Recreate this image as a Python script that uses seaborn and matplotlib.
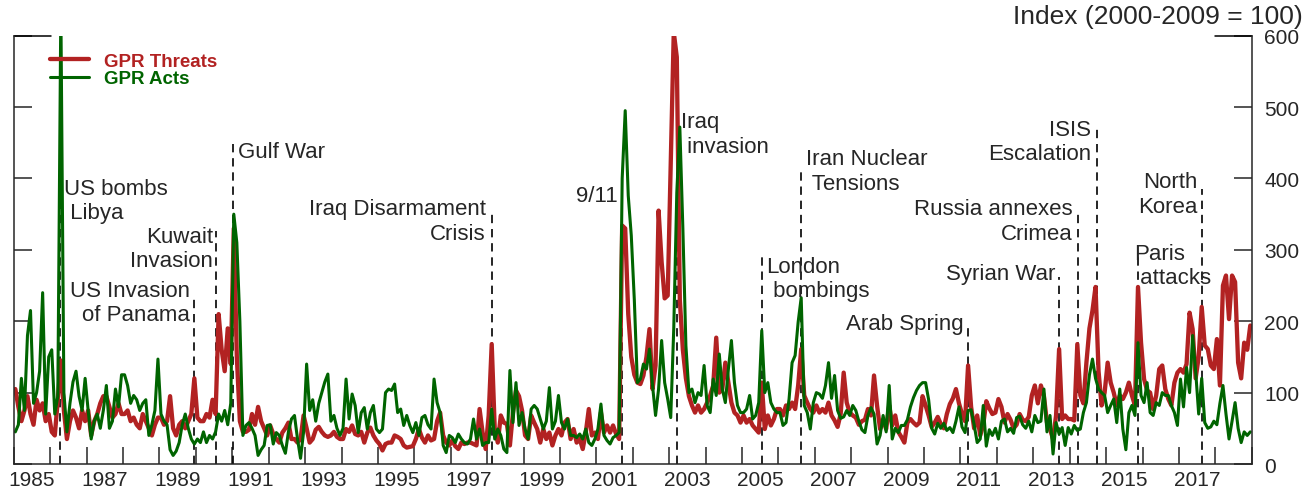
import matplotlib
matplotlib.use('Agg')
import numpy as np
import pandas as pd
import seaborn as sns
import matplotlib.pyplot as plt

# monthly index values (2000-2009 = 100), one line per year, Jan..Dec
threats = [
    105, 80, 60, 75, 95, 70, 55, 90, 75, 85, 60, 70,        # 1985
    45, 40, 90, 145, 75, 35, 60, 75, 65, 50, 75, 60,        # 1986
    75, 40, 60, 70, 85, 95, 95, 80, 65, 70, 85, 70,         # 1987
    70, 75, 60, 65, 55, 50, 70, 60, 50, 40, 55, 65,         # 1988
    65, 55, 60, 95, 50, 40, 55, 60, 50, 60, 70, 120,        # 1989
    65, 60, 60, 70, 65, 90, 70, 210, 160, 130, 190, 140,    # 1990
    330, 150, 60, 45, 45, 48, 70, 55, 80, 60, 50, 40,       # 1991
    54, 42, 35, 30, 44, 50, 58, 35, 35, 30, 35, 68,         # 1992
    50, 30, 35, 48, 52, 45, 40, 38, 40, 45, 38, 35,         # 1993
    35, 49, 45, 54, 42, 40, 45, 30, 44, 51, 40, 33,         # 1994
    28, 19, 28, 30, 30, 40, 38, 35, 26, 23, 24, 25,         # 1995
    35, 49, 37, 30, 40, 33, 35, 60, 72, 40, 30, 26,         # 1996
    33, 25, 21, 30, 28, 30, 30, 28, 26, 77, 44, 21,         # 1997
    68, 168, 49, 30, 68, 58, 56, 26, 72, 103, 95, 75,       # 1998
    40, 35, 68, 58, 49, 30, 49, 35, 44, 26, 40, 49,         # 1999
    40, 58, 63, 35, 49, 30, 35, 21, 44, 77, 40, 44,         # 2000
    35, 72, 44, 54, 44, 54, 42, 35, 334, 330, 210, 150,     # 2001
    125, 114, 112, 124, 150, 189, 105, 138, 355, 283, 232, 236,  # 2002
    420, 605, 570, 230, 160, 120, 95, 82, 72, 82, 72, 77,   # 2003
    86, 96, 110, 177, 100, 105, 142, 114, 86, 72, 68, 58,   # 2004
    68, 58, 63, 54, 49, 44, 114, 49, 68, 54, 63, 77,        # 2005
    77, 68, 82, 77, 86, 77, 110, 161, 96, 86, 77, 72,       # 2006
    82, 72, 77, 72, 86, 68, 61, 52, 70, 128, 86, 72,        # 2007
    68, 65, 55, 60, 62, 77, 68, 124, 82, 49, 62, 49,        # 2008
    82, 54, 68, 45, 38, 30, 58, 63, 58, 54, 58, 95,         # 2009
    82, 68, 52, 58, 66, 56, 50, 70, 84, 92, 105, 85,        # 2010
    70, 60, 138, 80, 50, 68, 40, 55, 88, 78, 70, 72,        # 2011
    91, 80, 58, 70, 62, 50, 55, 70, 62, 60, 66, 96,         # 2012
    110, 85, 110, 95, 58, 49, 35, 68, 161, 63, 68, 63,      # 2013
    63, 61, 168, 96, 85, 142, 190, 215, 248, 130, 82, 100,  # 2014
    142, 114, 100, 82, 96, 91, 100, 114, 96, 82, 248, 170,  # 2015
    119, 103, 100, 77, 96, 133, 138, 105, 91, 82, 114, 128, # 2016
    133, 128, 140, 212, 189, 120, 150, 220, 166, 161, 138, 133,  # 2017
    175, 110, 250, 264, 203, 264, 255, 142, 120, 170, 160, 194,  # 2018
]

acts = [
    45, 55, 120, 75, 180, 215, 85, 100, 130, 240, 70, 150,  # 1985
    160, 70, 95, 640, 100, 45, 85, 115, 130, 95, 75, 120,   # 1986
    75, 35, 60, 70, 50, 75, 110, 50, 60, 105, 80, 125,      # 1987
    125, 110, 85, 96, 90, 75, 85, 90, 40, 55, 75, 147,      # 1988
    70, 60, 55, 20, 12, 18, 30, 55, 70, 50, 35, 28,         # 1989
    35, 30, 45, 30, 40, 35, 45, 70, 60, 75, 55, 85,         # 1990
    350, 310, 200, 40, 54, 58, 50, 40, 12, 20, 26, 54,      # 1991
    55, 28, 44, 40, 26, 15, 45, 63, 68, 35, 8, 45,          # 1992
    140, 75, 90, 60, 85, 100, 115, 126, 60, 68, 50, 40,     # 1993
    50, 119, 63, 98, 82, 44, 72, 79, 49, 72, 82, 49,        # 1994
    44, 49, 100, 105, 103, 112, 72, 77, 54, 68, 54, 44,     # 1995
    58, 40, 65, 68, 55, 49, 119, 86, 72, 26, 16, 40,        # 1996
    37, 30, 42, 35, 30, 28, 35, 63, 35, 49, 26, 30,         # 1997
    30, 77, 35, 49, 40, 21, 16, 131, 58, 114, 54, 72,       # 1998
    49, 35, 77, 82, 77, 63, 49, 60, 107, 49, 60, 96,        # 1999
    58, 49, 63, 40, 40, 37, 42, 35, 49, 30, 26, 35,         # 2000
    49, 84, 40, 33, 28, 37, 40, 44, 400, 495, 376, 320,     # 2001
    230, 114, 119, 140, 133, 161, 110, 68, 105, 173, 114, 91,  # 2002
    65, 190, 380, 472, 330, 166, 100, 105, 86, 100, 96, 138,   # 2003
    82, 72, 119, 96, 154, 105, 86, 133, 173, 114, 82, 72,   # 2004
    72, 77, 96, 63, 68, 86, 187, 100, 114, 86, 77, 72,      # 2005
    72, 54, 58, 91, 142, 152, 199, 233, 82, 72, 49, 86,     # 2006
    100, 98, 92, 110, 142, 92, 124, 75, 64, 66, 75, 68,     # 2007
    82, 75, 60, 48, 44, 68, 79, 70, 28, 40, 68, 45,         # 2008
    110, 35, 50, 44, 54, 54, 62, 80, 93, 103, 110, 114,     # 2009
    114, 90, 50, 42, 57, 50, 57, 47, 51, 44, 60, 80,        # 2010
    52, 44, 75, 76, 55, 30, 35, 82, 25, 48, 40, 50,         # 2011
    35, 60, 63, 45, 50, 43, 65, 67, 55, 50, 60, 45,         # 2012
    68, 58, 60, 105, 45, 68, 14, 58, 42, 51, 26, 51,        # 2013
    42, 54, 47, 49, 72, 86, 125, 147, 120, 105, 100, 96,    # 2014
    72, 82, 91, 58, 105, 49, 20, 72, 82, 68, 170, 96,       # 2015
    86, 114, 72, 68, 86, 82, 100, 96, 96, 82, 72, 54,       # 2016
    119, 80, 135, 100, 180, 130, 70, 120, 58, 50, 52, 60,   # 2017
    55, 85, 110, 70, 35, 60, 86, 50, 30, 45, 40, 45,        # 2018
]

start_year = 1985
label_years = list(range(1985, 2018, 2))

# events marked with dashed lines (decimal year)
event_labels = ['US bombs\n Libya', 'US Invasion\nof Panama', 'Kuwait\nInvasion',
                'Gulf War', 'Iraq Disarmament\nCrisis', '9/11', 'Iraq\n invasion',
                'London\n bombings', 'Iran Nuclear\n Tensions', 'Arab Spring',
                'Syrian War', 'Russia annexes\nCrimea', 'ISIS\nEscalation',
                'Paris\n attacks', 'North\nKorea']
event_dates = [1986.27, 1989.96, 1990.55, 1991.03, 1998.12, 2001.71, 2003.22,
               2005.56, 2006.63, 2011.21, 2013.71, 2014.23, 2014.74, 2015.88, 2017.63]

# layout for each event: top of dashed line, top of text, side, x offset (pt)
event_layout = [(395, 401, 'left', 3), (231, 258, 'right', -3), (327, 333, 'right', -2),
                (448, 452, 'left', 3), (353, 372, 'right', -4), (381, 391, 'right', -3),
                (490, 494, 'left', 3), (292, 292, 'left', 3), (416, 442, 'left', 3),
                (198, 212, 'right', -3), (262, 282, 'right', -3), (353, 372, 'right', -4),
                (474, 483, 'right', -4), (292, 310, 'left', -3), (385, 410, 'right', -3)]

red = '#b22222'
green = '#006400'

n = len(threats)
t = start_year + (np.arange(n) + 0.5) / 12
df = pd.DataFrame({'t': t, 'GPR Threats': threats, 'GPR Acts': acts})

sns.set_style('ticks')
plt.rcParams['font.family'] = ['Liberation Sans', 'DejaVu Sans']

fig = plt.figure(figsize=(13.16, 5.02), dpi=100)
ax = fig.add_axes([0.0105, 0.0737, 0.9407, 0.8532])

sns.lineplot(data=df, x='t', y='GPR Threats', color=red, lw=3.1, ax=ax, label='GPR Threats')
sns.lineplot(data=df, x='t', y='GPR Acts', color=green, lw=2.2, ax=ax, label='GPR Acts')

# dashed event markers
for lab, d, (top, ty, side, dx) in zip(event_labels, event_dates, event_layout):
    ax.vlines(d, 0, top, colors='black', linestyles=(0, (5, 3.5)), lw=1.2, zorder=1)
    ax.annotate(lab, xy=(d, ty), xytext=(dx, 0), textcoords='offset points',
                ha=side, va='top', fontsize=16, linespacing=1.2)

ax.set_xlim(start_year, 2019)
ax.set_ylim(0, 600)
ax.set_xlabel('')
ax.set_ylabel('')

ax.set_xticks(range(start_year, 2020))
ax.set_xticklabels([])
ax.set_xticks([y + 0.5 for y in label_years], minor=True)
ax.set_xticklabels([str(y) for y in label_years], minor=True)
ax.tick_params(axis='x', which='major', direction='in', length=12, width=1.1)
ax.tick_params(axis='x', which='minor', length=0, pad=4, labelsize=15)

ax.set_yticks(range(0, 601, 100))
ax.tick_params(axis='y', direction='in', length=13, width=1.1, left=True, right=True,
               labelleft=False, labelright=True, labelsize=15, pad=9)

ax.spines['top'].set_visible(False)
for s in ['left', 'right', 'bottom']:
    ax.spines[s].set_linewidth(1.1)
ax.plot([0, 0.03], [1, 1], transform=ax.transAxes, color='black', lw=1.1, clip_on=False)
ax.plot([0.97, 1], [1, 1], transform=ax.transAxes, color='black', lw=1.1, clip_on=False)

ax.text(1.0414, 1.046, 'Index (2000-2009 = 100)', transform=ax.transAxes,
        ha='right', va='center', fontsize=19)

leg = ax.legend(loc='upper left', bbox_to_anchor=(0.029, 0.96), frameon=False,
                borderpad=0, borderaxespad=0, handlelength=2.1, handletextpad=0.8,
                labelspacing=0.0, prop={'weight': 'bold', 'size': 13.5})
for txt, line in zip(leg.get_texts(), leg.get_lines()):
    txt.set_color(line.get_color())

fig.savefig('out.png', dpi=100)
